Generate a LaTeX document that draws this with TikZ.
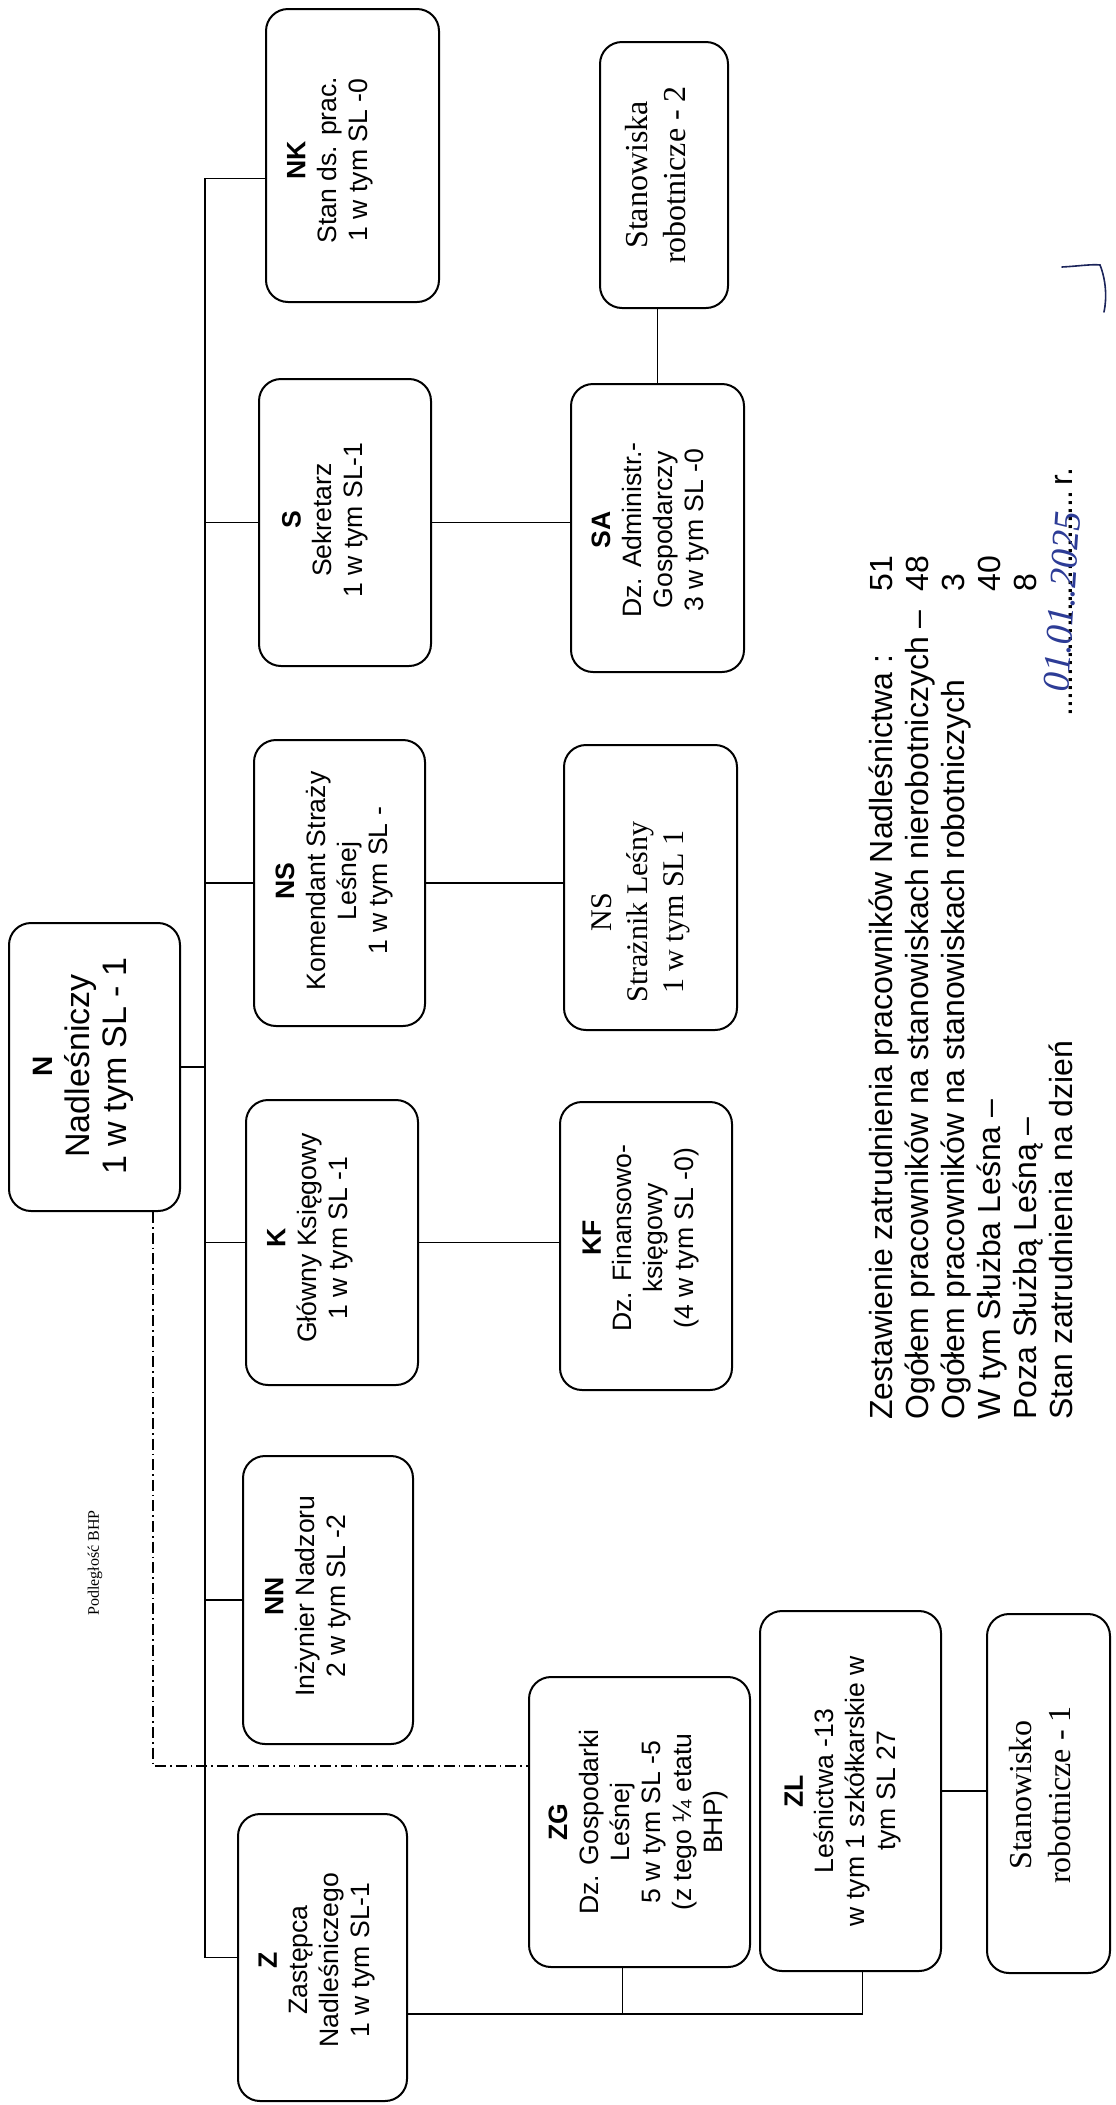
\documentclass[tikz,border=0pt]{standalone}
\usepackage{fontspec}
\setmainfont{Liberation Serif}
\setsansfont{Liberation Sans}
\usetikzlibrary{fit,calc}
\definecolor{inkblue}{RGB}{45,60,150}

\begin{document}
\begin{tikzpicture}[x=0.5pt,y=-0.5pt,
  frame/.style={draw, line width=1pt, rounded corners=11pt, inner sep=0pt},
  txt/.style={rotate=90, align=center, inner sep=0pt, font=\sffamily\fontsize{13.3}{15.5}\selectfont},
  rtxt/.style={rotate=90, align=center, inner sep=0pt, font=\rmfamily\fontsize{16}{19}\selectfont},
  stat/.style={rotate=90, inner sep=0pt, font=\sffamily\fontsize{16}{18}\selectfont},
  hand/.style={rotate=86, inner sep=0pt, text=inkblue, font=\rmfamily\itshape\fontsize{19}{19}\selectfont},
  conn/.style={line width=0.7pt},
  bhpline/.style={line width=0.8pt, dash pattern=on 5.5pt off 2pt on 0.8pt off 2pt}]
\fill[white] (0,0) rectangle (1115,2105);
\useasboundingbox (0,0) rectangle (1115,2105);

% ramki
\node[frame, fit={(9,923) (180,1211)}] (N) {};
\node[frame, fit={(266,9) (439,302)}] (NK) {};
\node[frame, fit={(259,379) (431,666)}] (S) {};
\node[frame, fit={(254,740) (425,1026)}] (NS) {};
\node[frame, fit={(246,1100) (418,1385)}] (K) {};
\node[frame, fit={(243,1456) (413,1744)}] (NN) {};
\node[frame, fit={(238,1814) (407,2101)}] (Z) {};
\node[frame, fit={(600,42) (728,308)}] (Stan2) {};
\node[frame, fit={(571,384) (744,672)}] (SA) {};
\node[frame, fit={(564,745) (737,1030)}] (NSS) {};
\node[frame, fit={(560,1102) (732,1390)}] (KF) {};
\node[frame, fit={(529,1677) (750,1967)}] (ZG) {};
\node[frame, fit={(760,1611) (941,1971)}] (ZL) {};
\node[frame, fit={(987,1614) (1110,1973)}] (Stan1) {};

% teksty
\node[txt, font=\sffamily\fontsize{17}{18.5}\selectfont] (Nt) at (83,1066) {{\fontsize{14}{18.5}\selectfont\bfseries N}\\Nadleśniczy\\1 w tym SL - 1};
\node[txt] (NKt) at (330,160) {\textbf{NK}\\Stan ds. prac.\\1 w tym SL -0};
\node[txt] (St) at (325,520) {\textbf{S}\\Sekretarz\\1 w tym SL-1};
\node[txt] (NSt) at (334,881) {\textbf{NS}\\Komendant Straży\\Leśnej\\1 w tym SL -};
\node[txt] (Kt) at (310,1238) {\textbf{K}\\Główny Księgowy\\1 w tym SL -1};
\node[txt] (NNt) at (308,1596) {\textbf{NN}\\Inżynier Nadzoru\\2 w tym SL -2};
\node[txt] (Zt) at (317,1960) {\textbf{Z}\\Zastępca\\Nadleśniczego\\1 w tym SL-1};
\node[rtxt] (Stan2t) at (656,175) {Stanowiska\\robotnicze - 2};
\node[txt] (SAt) at (650,530) {\textbf{SA}\\Dz. Administr.-\\Gospodarczy\\3 w tym SL -0};
\node[rtxt, font=\rmfamily\fontsize{15}{18}\selectfont] (NSSt) at (641,912) {NS\\Strażnik Leśny\\1 w tym SL 1};
\node[txt] (KFt) at (641,1238) {\textbf{KF}\\Dz. Finansowo-\\księgowy\\(4 w tym SL -0)};
\node[txt] (ZGt) at (638,1822) {\textbf{ZG}\\Dz. Gospodarki\\Leśnej\\5 w tym SL -5\\(z tego ¼ etatu\\BHP)};
\node[txt] (ZLt) at (843,1791) {\textbf{ZL}\\Leśnictwa -13\\w tym 1 szkółkarskie w\\tym SL 27};
\node[rtxt, font=\rmfamily\fontsize{16}{19.5}\selectfont] (Stan1t) at (1040,1795) {Stanowisko\\robotnicze - 1};
\node[rotate=90, inner sep=0pt, font=\rmfamily\fontsize{8}{9}\selectfont] (bhp) at (95,1563) {Podległość BHP};

% linie
\coordinate (bus) at (205,0);
\draw[conn] ([yshift=-11.5pt]NK.west) -- ([yshift=-11.5pt]NK.west -| bus) -- (Z.west -| bus);
\foreach \b in {S,NS,K,NN,Z}
  \draw[conn] (\b.west) -- (\b.west -| bus);
\draw[conn] (N.east) -- (N.east -| bus);
\draw[conn] (S.east) -- (S.east -| SA.west);
\draw[conn] (SA.north) -- (SA.north |- Stan2.south);
\draw[conn] (NS.east) -- (NS.east -| NSS.west);
\draw[conn] (K.east) -- (K.east -| KF.west);
\draw[conn] (ZL.east) -- (ZL.east -| Stan1.west);
\coordinate (zb) at (0,2014);
\draw[conn] (Z.east |- zb) -| ([xshift=6pt]ZL.south);
\draw[conn] ([xshift=-8.5pt]ZG.south) -- ([xshift=-8.5pt]ZG.south |- zb);
\draw[bhpline] ([xshift=-14pt]N.south east) |- ([yshift=28pt]ZG.west);

% zestawienie
\foreach \txt [count=\i] in {Zestawienie zatrudnienia pracowników Nadleśnictwa :,Ogółem pracowników na stanowiskach nierobotniczych –,Ogółem pracowników na stanowiskach robotniczych,W tym Służba Leśna –,Poza Służbą Leśną –,Stan zatrudnienia na dzień}
  \node[stat, anchor=base west] (st\i) at ({892+36*(\i-1)},1420) {\txt};
\foreach \nb/\i in {51/1,48/2,3/3,40/4,8/5}
  \node[stat, anchor=base west] (nb\i) at ({892+36*(\i-1)},592) {\nb};
\node[stat, anchor=base west] (dots) at (1072,716) {\leaders\hbox to 4pt{\hss.\hss}\hskip 115pt r.};
\node[hand] (date) at (1062,602) {01.01..2025};

% odręczny znak
\draw[inkblue!60!black, line width=0.8pt, line cap=round] (1062,267) .. controls (1080,266) and (1092,264) .. (1100,265) .. controls (1106,280) and (1107,298) .. (1104,312);
\end{tikzpicture}
\end{document}
